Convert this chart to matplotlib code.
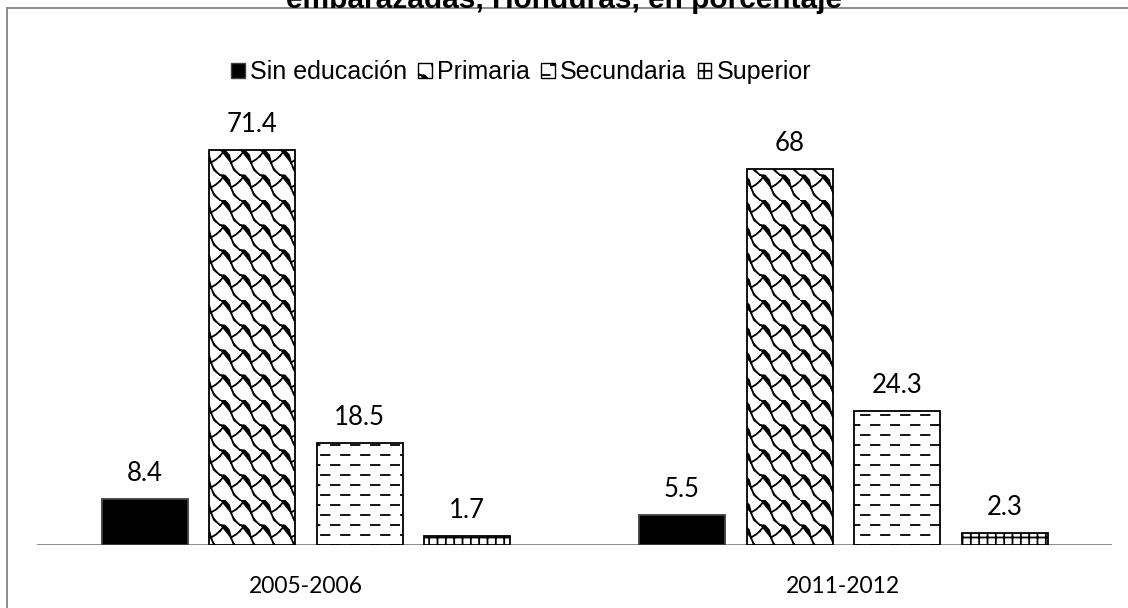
import warnings
import numpy as np
import matplotlib
matplotlib.use("Agg")
import matplotlib.pyplot as plt
import matplotlib.hatch as mhatch
from matplotlib.path import Path
from matplotlib.patches import Patch
from matplotlib.lines import Line2D

warnings.filterwarnings("ignore")

categories = ["2005-2006", "2011-2012"]
series = ["Sin educación", "Primaria", "Secundaria", "Superior"]
sin_educacion = [8.4, 5.5]
primaria = [71.4, 68]
secundaria = [18.5, 24.3]
superior = [1.7, 2.3]
value_labels = [["8.4", "5.5"], ["71.4", "68"], ["18.5", "24.3"], ["1.7", "2.3"]]
title = "embarazadas, Honduras, en porcentaje"


# custom hatch: dashed rows ("_") and wavy shingles ("~")
class DashRows(mhatch.HatchPatternBase):
    rows, cols = 10, 5

    def __init__(self, hatch, density):
        self.num_vertices = self.rows * self.cols * 2 if "_" in hatch else 0

    def set_vertices_and_codes(self, vertices, codes):
        k = 0
        for r in range(self.rows):
            y = (r + 0.5) / self.rows
            shift = 0.5 if r % 2 else 0.0
            for c in range(self.cols):
                x0 = (c + shift) / self.cols + 0.01
                vertices[k] = (x0, y)
                vertices[k + 1] = (x0 + 0.085, y)
                codes[k] = Path.MOVETO
                codes[k + 1] = Path.LINETO
                k += 2


class Shingle(mhatch.HatchPatternBase):
    rows, cols = 4, 5
    parts = [
        [(0.0, 1.0), (0.25, 0.97), (0.45, 0.8), (0.55, 0.5), (0.7, 0.2), (1.0, 0.0)],
        [(0.55, 0.5), (0.8, 0.62), (1.0, 0.76)],
        [(0.0, 0.76), (0.12, 0.88), (0.2, 0.975)],
    ]

    def __init__(self, hatch, density):
        n = sum(len(p) for p in self.parts)
        self.num_vertices = self.rows * self.cols * n if "~" in hatch else 0

    def set_vertices_and_codes(self, vertices, codes):
        k = 0
        for r in range(self.rows):
            for c in range(self.cols):
                for part in self.parts:
                    for i, (u, v) in enumerate(part):
                        vertices[k] = ((c + u) / self.cols, (r + v) / self.rows)
                        codes[k] = Path.MOVETO if i == 0 else Path.LINETO
                        k += 1


mhatch._hatch_types.extend([DashRows, Shingle])

plt.rcParams["hatch.linewidth"] = 1.3
plt.rcParams["hatch.color"] = "black"

fig = plt.figure(figsize=(11.28, 6.08), dpi=100)
ax = fig.add_axes([37 / 1128, 0.1028, 1075 / 1128, 0.728])

x = np.arange(len(categories))
width = 0.16
offsets = [-0.3, -0.1, 0.1, 0.3]
values = [sin_educacion, primaria, secundaria, superior]
styles = [
    dict(facecolor="black", edgecolor="#404040", hatch=None),
    dict(facecolor="white", edgecolor="black", hatch="~"),
    dict(facecolor="white", edgecolor="black", hatch="_"),
    dict(facecolor="white", edgecolor="black", hatch="++"),
]

handles = []
for vals, off, st, name, labs in zip(values, offsets, styles, series, value_labels):
    bars = ax.bar(x + off, vals, width, linewidth=1.3, zorder=2, **st)
    for b, lab in zip(bars, labs):
        ax.annotate(lab, (b.get_x() + b.get_width() / 2, b.get_height()),
                    xytext=(0, 13), textcoords="offset points",
                    ha="center", va="baseline", fontsize=18.5, family="Lato")
    handles.append(Patch(label=name, linewidth=1.0, **st))

ax.set_xlim(-0.5, 1.5)
ax.set_ylim(0, 80)
ax.set_yticks([])
ax.set_xticks(x)
ax.set_xticklabels(categories, fontsize=16.5, family="Lato")
ax.tick_params(axis="x", length=0, pad=22)
for s in ax.spines.values():
    s.set_visible(False)
ax.axhline(0, color="#8c8c8c", linewidth=1.4, zorder=1)

leg = fig.legend(handles=handles, loc="center", bbox_to_anchor=(0.462, 1 - 72 / 608),
                 ncol=4, frameon=False, handlelength=0.55, handleheight=0.55,
                 handletextpad=0.2, columnspacing=0.45,
                 prop={"family": "Liberation Sans", "size": 18})

fig.text(0.5, 1 - 8 / 608, title, ha="center", va="baseline",
         fontsize=21.5, fontweight="bold", family="Liberation Sans")

# outer chart frame (only left and top edges fall inside the image)
fig.add_artist(Line2D([7 / 1128, 7 / 1128], [0, 1 - 8 / 608], transform=fig.transFigure,
                      color="#8c8c8c", linewidth=1.4))
fig.add_artist(Line2D([7 / 1128, 1], [1 - 8 / 608, 1 - 8 / 608], transform=fig.transFigure,
                      color="#8c8c8c", linewidth=1.4))

fig.savefig("out.png", dpi=100)
